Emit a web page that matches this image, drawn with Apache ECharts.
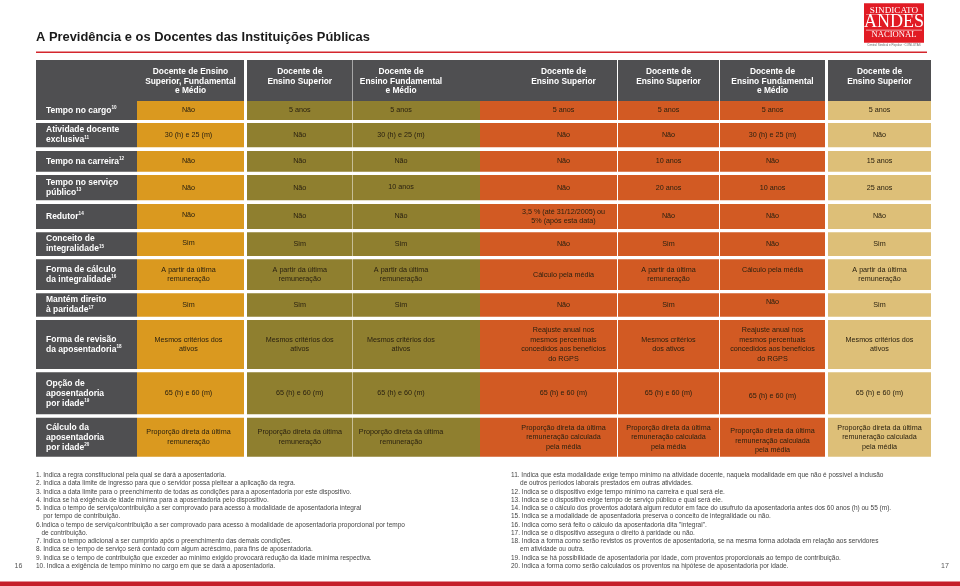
<!DOCTYPE html>
<html>
<head>
<meta charset="utf-8">
<script src="https://cdn.jsdelivr.net/npm/echarts@6/dist/echarts.min.js"></script>
<style>
  html, body { margin: 0; padding: 0; background: #ffffff; }
  #chart { width: 960px; height: 586px; }
</style>
</head>
<body>
<div id="chart"></div>
<script>
// ---------------- DATA ----------------
const chartTitle = 'A Previdência e os Docentes das Instituições Públicas';

const columnHeaders = [
  'Docente de Ensino\nSuperior, Fundamental\ne Médio',
  'Docente de\nEnsino Superior',
  'Docente de\nEnsino Fundamental\ne Médio',
  'Docente de\nEnsino Superior',
  'Docente de\nEnsino Superior',
  'Docente de\nEnsino Fundamental\ne Médio',
  'Docente de\nEnsino Superior'
];

// rule group of each column (drives the colour)
const columnRules = ['A', 'B', 'B', 'C', 'C', 'C', 'D'];

const rowLabels = [
  'Tempo no cargo',
  'Atividade docente\nexclusiva',
  'Tempo na carreira',
  'Tempo no serviço\npúblico',
  'Redutor',
  'Conceito de\nintegralidade',
  'Forma de cálculo\nda integralidade',
  'Mantém direito\nà paridade',
  'Forma de revisão\nda aposentadoria',
  'Opção de\naposentadoria\npor idade',
  'Cálculo da\naposentadoria\npor idade'
];
const rowNotes = ['10', '11', '12', '13', '14', '15', '16', '17', '18', '19', '20'];

const tempoNoCargo = ['Não', '5 anos', '5 anos', '5 anos', '5 anos', '5 anos', '5 anos'];
const atividadeDocente = ['30 (h) e 25 (m)', 'Não', '30 (h) e 25 (m)', 'Não', 'Não', '30 (h) e 25 (m)', 'Não'];
const tempoCarreira = ['Não', 'Não', 'Não', 'Não', '10 anos', 'Não', '15 anos'];
const tempoServico = ['Não', 'Não', '10 anos', 'Não', '20 anos', '10 anos', '25 anos'];
const redutor = ['Não', 'Não', 'Não', '3,5 % (até 31/12/2005) ou\n5% (após esta data)', 'Não', 'Não', 'Não'];
const conceitoIntegralidade = ['Sim', 'Sim', 'Sim', 'Não', 'Sim', 'Não', 'Sim'];
const formaCalculo = [
  'A partir da última\nremuneração', 'A partir da última\nremuneração', 'A partir da última\nremuneração',
  'Cálculo pela média', 'A partir da última\nremuneração', 'Cálculo pela média', 'A partir da última\nremuneração'
];
const paridade = ['Sim', 'Sim', 'Sim', 'Não', 'Sim', 'Não', 'Sim'];
const formaRevisao = [
  'Mesmos critérios dos\nativos', 'Mesmos critérios dos\nativos', 'Mesmos critérios dos\nativos',
  'Reajuste anual nos\nmesmos percentuais\nconcedidos aos benefícios\ndo RGPS',
  'Mesmos critérios\ndos ativos',
  'Reajuste anual nos\nmesmos percentuais\nconcedidos aos benefícios\ndo RGPS',
  'Mesmos critérios dos\nativos'
];
const opcaoIdade = ['65 (h) e 60 (m)', '65 (h) e 60 (m)', '65 (h) e 60 (m)', '65 (h) e 60 (m)', '65 (h) e 60 (m)', '65 (h) e 60 (m)', '65 (h) e 60 (m)'];
const calculoIdade = [
  'Proporção direta da última\nremuneração', 'Proporção direta da última\nremuneração', 'Proporção direta da última\nremuneração',
  'Proporção direta da última\nremuneração calculada\npela média', 'Proporção direta da última\nremuneração calculada\npela média',
  'Proporção direta da última\nremuneração calculada\npela média', 'Proporção direta da última\nremuneração calculada\npela média'
];

const tableRows = [tempoNoCargo, atividadeDocente, tempoCarreira, tempoServico, redutor,
  conceitoIntegralidade, formaCalculo, paridade, formaRevisao, opcaoIdade, calculoIdade];

const footnotesLeft = [
  '1. Indica a regra constitucional pela qual se dará a aposentadoria.',
  '2. Indica a data limite de ingresso para que o servidor possa pleitear a aplicação da regra.',
  '3. Indica a data limite para o preenchimento de todas as condições para a aposentadoria por este dispositivo.',
  '4. Indica se há exigência de idade mínima para a aposentadoria pelo dispositivo.',
  '5. Indica o tempo de serviço/contribuição a ser comprovado para acesso à modalidade de aposentadoria integral',
  '    por tempo de contribuição.',
  '6.Indica o tempo de serviço/contribuição a ser comprovado para acesso à modalidade de aposentadoria proporcional por tempo',
  '   de contribuição.',
  '7. Indica o tempo adicional a ser cumprido após o preenchimento das demais condições.',
  '8. Indica se o tempo de serviço será contado com algum acréscimo, para fins de aposentadoria.',
  '9. Indica se o tempo de contribuição que exceder ao mínimo exigido provocará redução da idade mínima respectiva.',
  '10. Indica a exigência de tempo mínimo no cargo em que se dará a aposentadoria.'
];
const footnotesRight = [
  '11. Indica que esta modalidade exige tempo mínimo na atividade docente, naquela modalidade em que não é possível a inclusão',
  '     de outros períodos laborais prestados em outras atividades.',
  '12. Indica se o dispositivo exige tempo mínimo na carreira e qual será ele.',
  '13. Indica se o dispositivo exige tempo de serviço público e qual será ele.',
  '14. Indica se o cálculo dos proventos adotará algum redutor em face do usufruto da aposentadoria antes dos 60 anos (h) ou 55 (m).',
  '15. Indica se a modalidade de aposentadoria preserva o conceito de integralidade ou não.',
  '16. Indica como será feito o cálculo da aposentadoria dita "integral".',
  '17. Indica se o dispositivo assegura o direito à paridade ou não.',
  '18. Indica a forma como serão revistos os proventos de aposentadoria, se na mesma forma adotada em relação aos servidores',
  '     em atividade ou outra.',
  '19. Indica se há possibilidade de aposentadoria por idade, com proventos proporcionais ao tempo de contribuição.',
  '20. Indica a forma como serão calculados os proventos na hipótese de aposentadoria por idade.'
];
const pageNumbers = ['16', '17'];

// ---------------- LAYOUT / STYLE ----------------
const FONT = '"Liberation Sans", Arial, Helvetica, sans-serif';
const SERIF = '"Liberation Serif", "DejaVu Serif", serif';
const DARK = '#4f4f51';
const RULE_COLOURS = { A: '#da991f', B: '#8f7f2f', C: '#d25a23', D: '#ddbf78' };
const CELL_TEXT = '#2a2110';

// table-relative bounds (x across, y down); column 0 = row labels, row 0 = header
const COL_BOUNDS = [[0, 101], [101, 208], [211, 316.5], [317, 444], [444, 581], [582, 683], [684, 789], [792, 895]];
const ROW_BOUNDS = [[0, 41], [41, 60], [63, 87.3], [91, 111.7], [115, 140.3], [144, 169], [172.3, 196],
  [199.3, 230], [233.3, 256.7], [260, 309], [312.3, 354.3], [357.7, 396.7]];
const COL_TEXT_SHIFT = [0, -2, 0, -15.5, 15, 0, 0, 0];
const HEAD_TEXT_SHIFT = [0, 0, 0, -15.5, 15, 0, 0, 0];
const TEXT_NUDGE = { '7-6': -4.5, '8-6': -3, '10-6': 3, '11-6': 3.5, '6-1': -1.5, '5-1': -1, '4-3': -1 };

const cellData = [];
for (let r = 0; r <= rowLabels.length; r++) {
  for (let c = 0; c <= columnHeaders.length; c++) cellData.push([c, r]);
}

function labelRich(text, note) {
  const lines = text.split('\n');
  return lines.map((l, i) => '{b|' + l + '}' + (i === lines.length - 1 ? '{s|' + note + '}' : '')).join('\n');
}

function renderItem(params, api) {
  const c = api.value(0), r = api.value(1);
  const cb = COL_BOUNDS[c], rb = ROW_BOUNDS[r];
  const p0 = api.coord([cb[0], rb[0]]);
  const p1 = api.coord([cb[1], rb[1]]);
  const x = p0[0], y = p0[1], w = p1[0] - p0[0], h = p1[1] - p0[1];
  const fill = (r === 0 || c === 0) ? DARK : RULE_COLOURS[columnRules[c - 1]];
  const children = [{ type: 'rect', shape: { x: x, y: y, width: w, height: h }, style: { fill: fill } }];
  if (r === 0 && c > 0) {
    children.push({
      type: 'text',
      style: {
        text: columnHeaders[c - 1], x: x + w / 2 + HEAD_TEXT_SHIFT[c], y: y + 7,
        align: 'center', verticalAlign: 'top', fill: '#ffffff',
        fontFamily: FONT, fontWeight: 'bold', fontSize: 8.4, lineHeight: 9.6
      }
    });
  } else if (c === 0 && r > 0) {
    children.push({
      type: 'text',
      style: {
        text: labelRich(rowLabels[r - 1], rowNotes[r - 1]), x: x + 10, y: y + h / 2,
        align: 'left', verticalAlign: 'middle',
        rich: {
          b: { fontFamily: FONT, fontWeight: 'bold', fontSize: 8.5, lineHeight: 10, fill: '#ffffff' },
          s: { fontFamily: FONT, fontWeight: 'bold', fontSize: 4.6, lineHeight: 5, fill: '#ffffff', verticalAlign: 'top' }
        }
      }
    });
  } else if (r > 0 && c > 0) {
    const nudge = TEXT_NUDGE[r + '-' + c] || 0;
    children.push({
      type: 'text',
      style: {
        text: tableRows[r - 1][c - 1], x: x + w / 2 + COL_TEXT_SHIFT[c], y: y + h / 2 + nudge,
        align: 'center', verticalAlign: 'middle', fill: CELL_TEXT,
        fontFamily: FONT, fontSize: 7.2, lineHeight: 9.5
      }
    });
  }
  return { type: 'group', children: children };
}

// non-data graphics: title, rules, logo, footnotes
const graphics = [];
graphics.push({ type: 'text', x: 36, y: 37.3, style: { text: chartTitle, fontFamily: FONT, fontWeight: 'bold', fontSize: 12.9, fill: '#1a1a1a', verticalAlign: 'middle' } });
graphics.push({ type: 'rect', shape: { x: 36, y: 51.6, width: 891, height: 1.5 }, style: { fill: '#d4262d' } });
graphics.push({ type: 'rect', shape: { x: 0, y: 581.6, width: 960, height: 4.4 }, style: { fill: '#c51f2a' } });
// logo
graphics.push({ type: 'rect', shape: { x: 864, y: 3.3, width: 60, height: 39.4 }, style: { fill: '#e11b24' } });
graphics.push({ type: 'text', x: 894, y: 10.5, style: { text: 'SINDICATO', fontFamily: SERIF, fontSize: 9.2, fill: '#ffffff', align: 'center', verticalAlign: 'middle' } });
graphics.push({ type: 'rect', shape: { x: 866, y: 14.4, width: 56, height: 0.6 }, style: { fill: 'rgba(255,255,255,0.8)' } });
graphics.push({ type: 'text', x: 894, y: 22.2, style: { text: 'ANDES', fontFamily: SERIF, fontSize: 18, fill: '#ffffff', align: 'center', verticalAlign: 'middle' } });
graphics.push({ type: 'rect', shape: { x: 866, y: 29.8, width: 56, height: 0.6 }, style: { fill: 'rgba(255,255,255,0.8)' } });
graphics.push({ type: 'text', x: 894, y: 34.8, style: { text: 'NACIONAL', fontFamily: SERIF, fontSize: 8.6, fill: '#ffffff', align: 'center', verticalAlign: 'middle' } });
graphics.push({ type: 'text', x: 894, y: 45.6, style: { text: 'Central Sindical e Popular · CONLUTAS', fontFamily: FONT, fontSize: 3, fill: '#666666', align: 'center', verticalAlign: 'middle' } });

footnotesLeft.forEach((t, i) => {
  graphics.push({ type: 'text', x: 36, y: 475.3 + i * 8.25, style: { text: t, fontFamily: FONT, fontSize: 6.5, fill: '#444444', verticalAlign: 'middle' } });
});
footnotesRight.forEach((t, i) => {
  graphics.push({ type: 'text', x: 511, y: 475.3 + i * 8.25, style: { text: t, fontFamily: FONT, fontSize: 6.5, fill: '#444444', verticalAlign: 'middle' } });
});
graphics.push({ type: 'text', x: 18.5, y: 566, style: { text: pageNumbers[0], fontFamily: FONT, fontSize: 7, fill: '#555555', align: 'center', verticalAlign: 'middle' } });
graphics.push({ type: 'text', x: 945, y: 566, style: { text: pageNumbers[1], fontFamily: FONT, fontSize: 7, fill: '#555555', align: 'center', verticalAlign: 'middle' } });

const chart = echarts.init(document.getElementById('chart'), null, { renderer: 'canvas' });
chart.setOption({
  animation: false,
  backgroundColor: '#ffffff',
  grid: { left: 36, top: 60, width: 895, height: 396.7, containLabel: false },
  xAxis: { type: 'value', min: 0, max: 895, show: false },
  yAxis: { type: 'value', min: 0, max: 396.7, inverse: true, show: false },
  series: [{
    type: 'custom',
    coordinateSystem: 'cartesian2d',
    renderItem: renderItem,
    data: cellData,
    clip: false,
    silent: true
  }],
  graphic: graphics
});
</script>
</body>
</html>
